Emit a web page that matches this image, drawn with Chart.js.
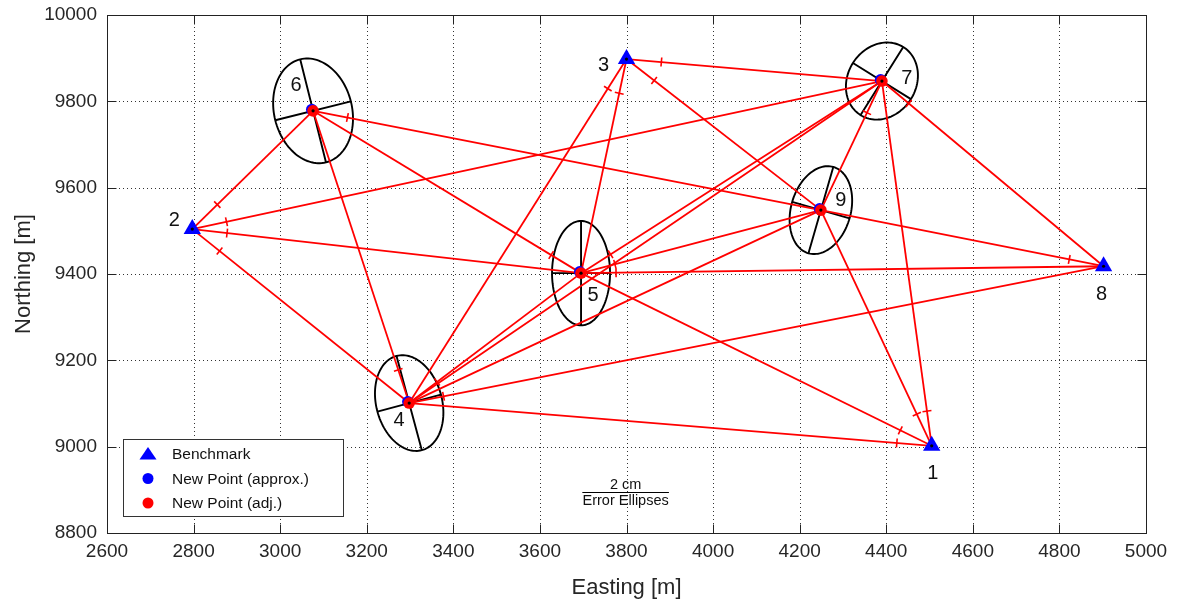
<!DOCTYPE html>
<html>
<head>
<meta charset="utf-8">
<script src="https://cdn.jsdelivr.net/npm/chart.js@4"></script>
<style>
  html, body { margin: 0; padding: 0; background: #fff; }
  #wrap { width: 1180px; height: 605px; }
</style>
</head>
<body>
<div id="wrap"><canvas id="networkChart" width="1180" height="605"></canvas></div>
<script>
// Station coordinates (adjusted), metres
const stationIds = ['1', '2', '3', '4', '5', '6', '7', '8', '9'];
const eastings  = [4505, 2797, 3800, 3298, 3695, 3076, 4390, 4902, 4249];
const northings = [9002, 9504, 9898, 9101, 9402, 9778, 9847, 9418, 9548];

const benchmarkIds = ['1', '2', '3', '8'];
const newPointIds = ['4', '5', '6', '7', '9'];

// approximate coordinates of the new points before adjustment
const approxEastings  = [3295, 3692, 3073, 4387, 4246];
const approxNorthings = [9104, 9405, 9781, 9850, 9551];

// observed lines: from -> to, tick drawn near the "from" station when ticked
const obsFrom   = ['2', '2', '2', '2', '3', '3', '3', '3', '1', '1', '1', '1', '8', '7', '7', '6', '5', '5', '5', '5', '4', '4', '4', '4', '4'];
const obsTo     = ['6', '7', '5', '4', '7', '9', '4', '5', '4', '5', '9', '7', '9', '8', '9', '9', '6', '7', '9', '8', '6', '5', '8', '9', '7'];
const obsTicked = [true, true, true, true, true, true, true, true, true, true, true, true, true, true, true, true, true, true, true, true, true, true, true, false, false];

// error ellipses of the new points (cm on the plot)
const ellipseIds = ['4', '5', '6', '7', '9'];
const ellipseMajorCm = [1.13, 1.21, 1.23, 0.93, 1.04];
const ellipseMinorCm = [0.76, 0.67, 0.90, 0.79, 0.69];
const ellipseAngleDeg = [105, 90, 104, 58, 74];
const metresPerCm = 100; // 2 cm bar == 200 m
const scaleBarCm = 2;

const xTickValues = [2600, 2800, 3000, 3200, 3400, 3600, 3800, 4000, 4200, 4400, 4600, 4800, 5000];
const yTickValues = [8800, 9000, 9200, 9400, 9600, 9800, 10000];

// label placement around each station, px
const labelOffsets = {
  '1': [1, 28], '2': [-18, -9], '3': [-23, 6], '4': [-10, 17], '5': [12, 22],
  '6': [-17, -25], '7': [25, -3], '8': [-2, 28], '9': [20, -10]
};

const FONT = "'Liberation Sans', Arial, Helvetica, sans-serif";
const RED = '#ff0000';
const BLUE = '#0000ff';

function station(id) {
  const i = stationIds.indexOf(id);
  return { x: eastings[i], y: northings[i] };
}

const lineDatasets = obsFrom.map((f, i) => ({
  label: 'obs ' + f + '-' + obsTo[i],
  data: [station(f), station(obsTo[i])],
  showLine: true,
  borderColor: RED,
  borderWidth: 1.8,
  pointRadius: 0,
  order: 10
}));

const datasets = [
  ...lineDatasets,
  {
    label: 'New Point (approx.)',
    data: newPointIds.map((id, i) => ({ x: approxEastings[i], y: approxNorthings[i] })),
    pointStyle: 'circle',
    pointRadius: 5.8,
    backgroundColor: BLUE,
    borderColor: BLUE,
    borderWidth: 0,
    order: 3
  },
  {
    label: 'New Point (adj.)',
    data: newPointIds.map(id => station(id)),
    pointStyle: 'circle',
    pointRadius: 5.8,
    backgroundColor: RED,
    borderColor: RED,
    borderWidth: 0,
    order: 2
  },
  {
    label: 'Benchmark',
    data: benchmarkIds.map(id => station(id)),
    pointStyle: 'triangle',
    pointRadius: 10,
    backgroundColor: BLUE,
    borderColor: BLUE,
    borderWidth: 0,
    order: 1
  },
  {
    label: 'centres',
    data: stationIds.map(id => station(id)),
    pointRadius: 1.6,
    backgroundColor: '#000',
    borderWidth: 0,
    order: 0
  }
];

const legendItems = ['Benchmark', 'New Point (approx.)', 'New Point (adj.)'];

const networkOverlay = {
  id: 'networkOverlay',
  beforeDatasetsDraw(chart) {
    const { ctx, chartArea: a, scales: { x, y } } = chart;
    ctx.save();
    // dotted grid
    ctx.strokeStyle = 'rgba(0,0,0,0.8)';
    ctx.lineWidth = 1;
    ctx.setLineDash([1, 3]);
    xTickValues.forEach(v => {
      const px = Math.round(x.getPixelForValue(v)) + 0.5;
      ctx.beginPath(); ctx.moveTo(px, a.top); ctx.lineTo(px, a.bottom); ctx.stroke();
    });
    yTickValues.forEach(v => {
      const py = Math.round(y.getPixelForValue(v)) + 0.5;
      ctx.beginPath(); ctx.moveTo(a.left, py); ctx.lineTo(a.right, py); ctx.stroke();
    });
    ctx.setLineDash([]);

    // error ellipses with their axes
    ctx.strokeStyle = '#000';
    ctx.lineWidth = 1.9;
    ellipseIds.forEach((id, i) => {
      const c = station(id);
      const A = ellipseMajorCm[i] * metresPerCm;
      const B = ellipseMinorCm[i] * metresPerCm;
      const t = ellipseAngleDeg[i] * Math.PI / 180;
      const ca = Math.cos(t), sa = Math.sin(t);
      const toPx = (u, w) => [
        x.getPixelForValue(c.x + u * ca - w * sa),
        y.getPixelForValue(c.y + u * sa + w * ca)
      ];
      ctx.beginPath();
      for (let k = 0; k <= 120; k++) {
        const p = k / 120 * Math.PI * 2;
        const [px, py] = toPx(A * Math.cos(p), B * Math.sin(p));
        if (k === 0) ctx.moveTo(px, py); else ctx.lineTo(px, py);
      }
      ctx.closePath();
      ctx.stroke();
      ctx.beginPath();
      let p1 = toPx(-A, 0), p2 = toPx(A, 0);
      ctx.moveTo(p1[0], p1[1]); ctx.lineTo(p2[0], p2[1]);
      p1 = toPx(0, -B); p2 = toPx(0, B);
      ctx.moveTo(p1[0], p1[1]); ctx.lineTo(p2[0], p2[1]);
      ctx.stroke();
    });
    ctx.restore();
  },
  afterDatasetsDraw(chart) {
    const { ctx, chartArea: a, scales: { x, y } } = chart;
    ctx.save();

    // observation ticks near the observing station
    ctx.strokeStyle = RED;
    ctx.lineWidth = 1.6;
    obsFrom.forEach((f, i) => {
      if (!obsTicked[i]) return;
      const s = station(f), e = station(obsTo[i]);
      const sx = x.getPixelForValue(s.x), sy = y.getPixelForValue(s.y);
      const ex = x.getPixelForValue(e.x), ey = y.getPixelForValue(e.y);
      const len = Math.hypot(ex - sx, ey - sy);
      const ux = (ex - sx) / len, uy = (ey - sy) / len;
      const mx = sx + ux * 35, my = sy + uy * 35;
      ctx.beginPath();
      ctx.moveTo(mx - uy * 4.5, my + ux * 4.5);
      ctx.lineTo(mx + uy * 4.5, my - ux * 4.5);
      ctx.stroke();
    });

    // station numbers
    ctx.fillStyle = '#111';
    ctx.font = '20px ' + FONT;
    ctx.textAlign = 'center';
    ctx.textBaseline = 'middle';
    stationIds.forEach((id, i) => {
      const o = labelOffsets[id];
      ctx.fillText(id, x.getPixelForValue(eastings[i]) + o[0], y.getPixelForValue(northings[i]) + o[1]);
    });

    // scale bar for the ellipses
    const barX0 = 3698, barY = 8895;
    const bx0 = x.getPixelForValue(barX0);
    const bx1 = x.getPixelForValue(barX0 + scaleBarCm * metresPerCm);
    const by = Math.round(y.getPixelForValue(barY)) + 0.5;
    ctx.strokeStyle = '#000';
    ctx.lineWidth = 1;
    ctx.beginPath(); ctx.moveTo(bx0, by); ctx.lineTo(bx1, by); ctx.stroke();
    ctx.font = '14.5px ' + FONT;
    ctx.fillStyle = '#111';
    ctx.fillText(scaleBarCm + ' cm', (bx0 + bx1) / 2, by - 8);
    ctx.fillText('Error Ellipses', (bx0 + bx1) / 2, by + 8);

    // legend
    const lx = a.left + 16, lw = 220, lh = 77;
    const ly = a.bottom - 17 - lh;
    ctx.fillStyle = '#fff';
    ctx.fillRect(lx, ly, lw, lh);
    ctx.strokeStyle = '#333';
    ctx.lineWidth = 1;
    ctx.strokeRect(lx + 0.5, ly + 0.5, lw, lh);
    ctx.font = '15.5px ' + FONT;
    ctx.textAlign = 'left';
    legendItems.forEach((label, i) => {
      const ds = chart.data.datasets.find(d => d.label === label);
      const cy = ly + 15 + i * 24.5;
      const cx = lx + 25;
      ctx.fillStyle = ds.backgroundColor;
      ctx.beginPath();
      if (ds.pointStyle === 'triangle') {
        ctx.moveTo(cx, cy - 7); ctx.lineTo(cx + 8.5, cy + 5.5); ctx.lineTo(cx - 8.5, cy + 5.5);
        ctx.closePath();
      } else {
        ctx.arc(cx, cy, 5.5, 0, Math.PI * 2);
      }
      ctx.fill();
      ctx.fillStyle = '#111';
      ctx.fillText(label, lx + 49, cy + 1);
    });

    // frame with inward ticks
    ctx.strokeStyle = '#222';
    ctx.lineWidth = 1;
    const L = Math.round(a.left) + 0.5, R = Math.round(a.right) + 0.5;
    const T = Math.round(a.top) + 0.5, Bm = Math.round(a.bottom) + 0.5;
    ctx.strokeRect(L, T, R - L, Bm - T);
    ctx.beginPath();
    xTickValues.forEach(v => {
      const px = Math.round(x.getPixelForValue(v)) + 0.5;
      ctx.moveTo(px, Bm); ctx.lineTo(px, Bm - 9);
      ctx.moveTo(px, T); ctx.lineTo(px, T + 9);
    });
    yTickValues.forEach(v => {
      const py = Math.round(y.getPixelForValue(v)) + 0.5;
      ctx.moveTo(L, py); ctx.lineTo(L + 9, py);
      ctx.moveTo(R, py); ctx.lineTo(R - 9, py);
    });
    ctx.stroke();
    ctx.restore();
  }
};

new Chart(document.getElementById('networkChart'), {
  type: 'scatter',
  data: { datasets },
  options: {
    responsive: false,
    animation: false,
    events: [],
    layout: { padding: { top: 15, right: 34, left: 0, bottom: 0 } },
    plugins: { legend: { display: false }, tooltip: { enabled: false } },
    scales: {
      x: {
        type: 'linear',
        min: 2600,
        max: 5000,
        afterBuildTicks: s => { s.ticks = xTickValues.map(v => ({ value: v })); },
        afterFit: s => { s.height = 72; s.paddingLeft = 0; s.paddingRight = 0; },
        grid: { display: false, drawTicks: false },
        border: { display: false },
        ticks: {
          callback: v => String(v),
          font: { family: FONT, size: 19 },
          color: '#262626',
          padding: 7,
          maxRotation: 0
        },
        title: {
          display: true,
          text: 'Easting [m]',
          font: { family: FONT, size: 22 },
          color: '#262626',
          padding: { top: 0, bottom: 4 }
        }
      },
      y: {
        type: 'linear',
        min: 8800,
        max: 10000,
        afterBuildTicks: s => { s.ticks = yTickValues.map(v => ({ value: v })); },
        afterFit: s => { s.width = 107; s.paddingTop = 0; s.paddingBottom = 0; },
        grid: { display: false, drawTicks: false },
        border: { display: false },
        ticks: {
          callback: v => String(v),
          font: { family: FONT, size: 19 },
          color: '#262626',
          padding: 10
        },
        title: {
          display: true,
          text: 'Northing [m]',
          font: { family: FONT, size: 22 },
          color: '#262626',
          padding: { top: 11, bottom: 0 }
        }
      }
    }
  },
  plugins: [networkOverlay]
});
</script>
</body>
</html>
